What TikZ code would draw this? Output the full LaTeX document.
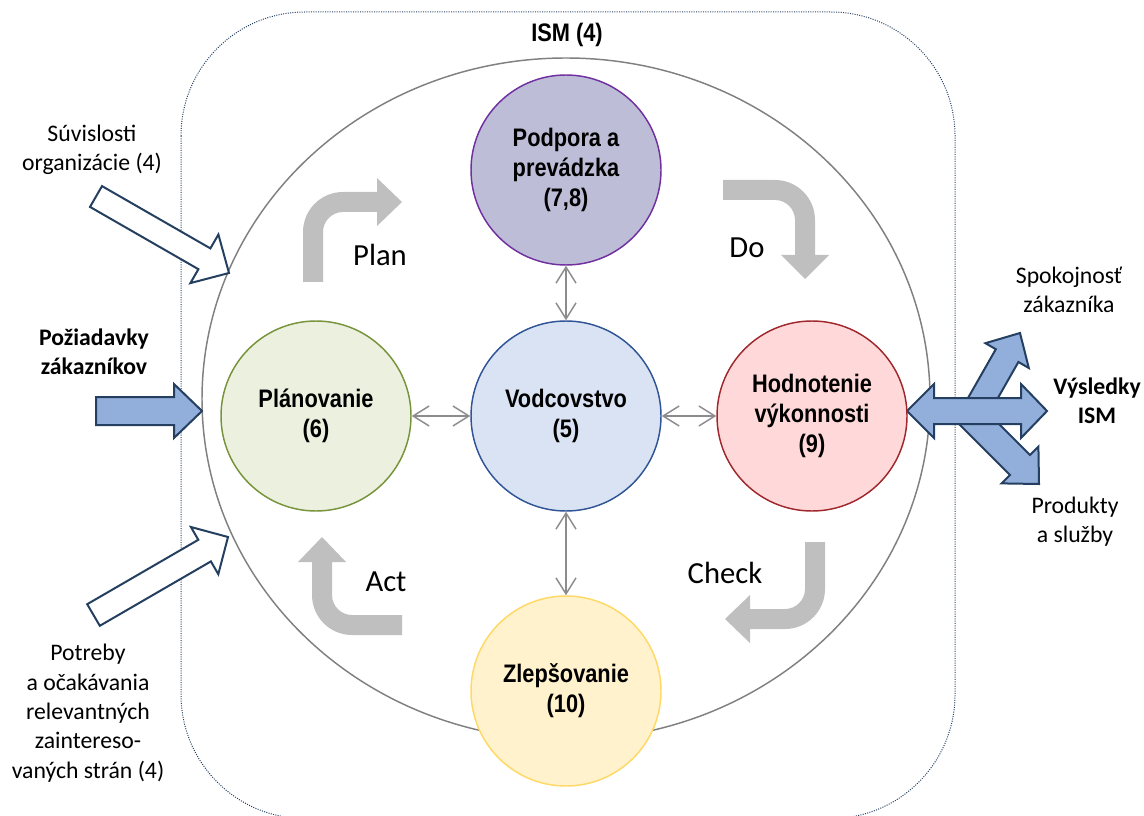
\documentclass[tikz,border=0pt]{standalone}
\usepackage{fontspec}
\setmainfont{Carlito}
\newfontfamily\narrowbold{Liberation Sans Bold}[FakeStretch=0.86]
\usetikzlibrary{arrows.meta}
\definecolor{podfill}{HTML}{BEBDD7}
\definecolor{podline}{HTML}{7030A0}
\definecolor{vodfill}{HTML}{DAE3F3}
\definecolor{vodline}{HTML}{2F5597}
\definecolor{plafill}{HTML}{EBF1DE}
\definecolor{plaline}{HTML}{77933C}
\definecolor{hodfill}{HTML}{FFD9D9}
\definecolor{hodline}{HTML}{A0282D}
\definecolor{zlefill}{HTML}{FFF2CC}
\definecolor{zleline}{HTML}{FFD966}
\definecolor{bentgray}{HTML}{BFBFBF}
\definecolor{conngray}{HTML}{8C8C8C}
\definecolor{ellgray}{HTML}{808080}
\definecolor{navy}{HTML}{243F60}
\definecolor{blockblue}{HTML}{92AEDA}
\tikzset{
  circ/.style={circle, draw, line width=1.1pt, minimum size=142.5pt, inner sep=0pt, align=center,
    font=\narrowbold\fontsize{19}{22.5}\selectfont},
  dbl/.style={conngray, line width=1.1pt, {Straight Barb[length=12pt,width=15pt]}-{Straight Barb[length=12pt,width=15pt]}},
  bent/.style={fill=bentgray, draw=none},
  hollow/.style={draw=navy, fill=white, line width=1.5pt, line join=miter},
  block/.style={draw=navy, fill=blockblue, line width=1.5pt, line join=miter},
  lbl/.style={align=center, font=\fontsize{17.8}{22}\selectfont},
  lblb/.style={align=center, font=\bfseries\fontsize{17.8}{22}\selectfont},
  pdca/.style={font=\fontsize{23}{27}\selectfont}
}
\begin{document}
\begin{tikzpicture}[x=0.75pt,y=-0.75pt]
\useasboundingbox (0,0) rectangle (1144,816);
% frame and ellipse
\draw[navy, densely dotted, line width=0.75pt, rounded corners=93pt] (181,12) rectangle (955,818.5);
\draw[ellgray, line width=1.1pt] (566,399) ellipse [x radius=273pt, y radius=255.75pt];
\node[font=\narrowbold\fontsize{19}{22}\selectfont] (ism) at (567,35) {ISM (4)};
% bent PDCA arrows
\path[bent] (303,282) -- (303,232) .. controls (303,209.9) and (320.9,192) .. (343,192) -- (377,192) -- (377,178) -- (402,202) -- (377,226) -- (377,212) -- (343,212) .. controls (332,212) and (323,221) .. (323,232) -- (323,282) -- cycle;
\path[bent] (723,180) -- (775,180) .. controls (797.1,180) and (815,197.9) .. (815,220) -- (815,255) -- (829,255) -- (805,279) -- (781,255) -- (795,255) -- (795,220) .. controls (795,209) and (786,200) .. (775,200) -- (723,200) -- cycle;
\path[bent] (825,542) -- (825,589) .. controls (825,611.1) and (807.1,629) .. (785,629) -- (750,629) -- (750,643) -- (725,619) -- (750,595) -- (750,609) -- (785,609) .. controls (796,609) and (805,600) .. (805,589) -- (805,542) -- cycle;
\path[bent] (402,635) -- (352,635) .. controls (329.9,635) and (312,617.1) .. (312,595) -- (312,562) -- (298,562) -- (322,537) -- (346,562) -- (332,562) -- (332,595) .. controls (332,606) and (341,615) .. (352,615) -- (402,615) -- cycle;
\node[pdca] (plan) at (380,255) {Plan};
\node[pdca] (do) at (747,248) {Do};
\node[pdca] (check) at (725,573) {Check};
\node[pdca] (act) at (386,582) {Act};
% input arrows
\draw[hollow] (102,186.1) -- (210.4,248.4) -- (218.4,234.5) -- (229,273) -- (190.4,283.1) -- (198.4,269.2) -- (90,206.9) -- cycle;
\draw[hollow] (87.2,604.2) -- (198.3,539.8) -- (190.9,527) -- (228,537) -- (218.3,574.2) -- (210.9,561.4) -- (99.8,625.8) -- cycle;
\draw[block] (96,397) -- (174,397) -- (174,384) -- (202,411) -- (174,438) -- (174,425) -- (96,425) -- cycle;
% output arrows
\draw[block] (960,412) -- (995.8,349.2) -- (985.4,343.2) -- (1020,333) -- (1028.8,368) -- (1018.4,362) -- (989.9,412) -- cycle;
\draw[block] (947,412) -- (1010,475) -- (1001.6,483.4) -- (1039,484) -- (1038.4,446.6) -- (1030,455) -- (987,412) -- cycle;
\draw[block] (907,411) -- (934,384) -- (934,398) -- (1021,398) -- (1021,384) -- (1047,411) -- (1021,438) -- (1021,424) -- (934,424) -- (934,438) -- cycle;
% side labels
\node[lbl] (suv) at (92,150) {Súvislosti\\organizácie (4)};
\node[lblb] (poz) at (94,352) {Požiadavky\\zákazníkov};
\node[lbl] (pot) at (88,713) {Potreby\\a očakávania\\relevantných\\zaintereso-\\vaných strán (4)};
\node[lbl] (spo) at (1069,290) {Spokojnosť\\zákazníka};
\node[lblb] (vys) at (1097,401) {Výsledky\\ISM};
\node[lbl] (pro) at (1075,522) {Produkty\\a služby};
% circles
\node[circ, fill=podfill, draw=podline] (pod) at (566,170) {Podpora a\\prevádzka\\(7,8)};
\node[circ, fill=vodfill, draw=vodline] (vod) at (566,416) {Vodcovstvo\\(5)};
\node[circ, fill=plafill, draw=plaline] (pla) at (316,416) {Plánovanie\\(6)};
\node[circ, fill=hodfill, draw=hodline] (hod) at (812,416) {Hodnotenie\\výkonnosti\\(9)};
\node[circ, fill=zlefill, draw=zleline] (zle) at (566,691) {Zlepšovanie\\(10)};
% connectors
\draw[dbl] (pla) -- (vod);
\draw[dbl] (vod) -- (hod);
\draw[dbl] (pod) -- (vod);
\draw[dbl] (vod) -- (zle);
\end{tikzpicture}
\end{document}
